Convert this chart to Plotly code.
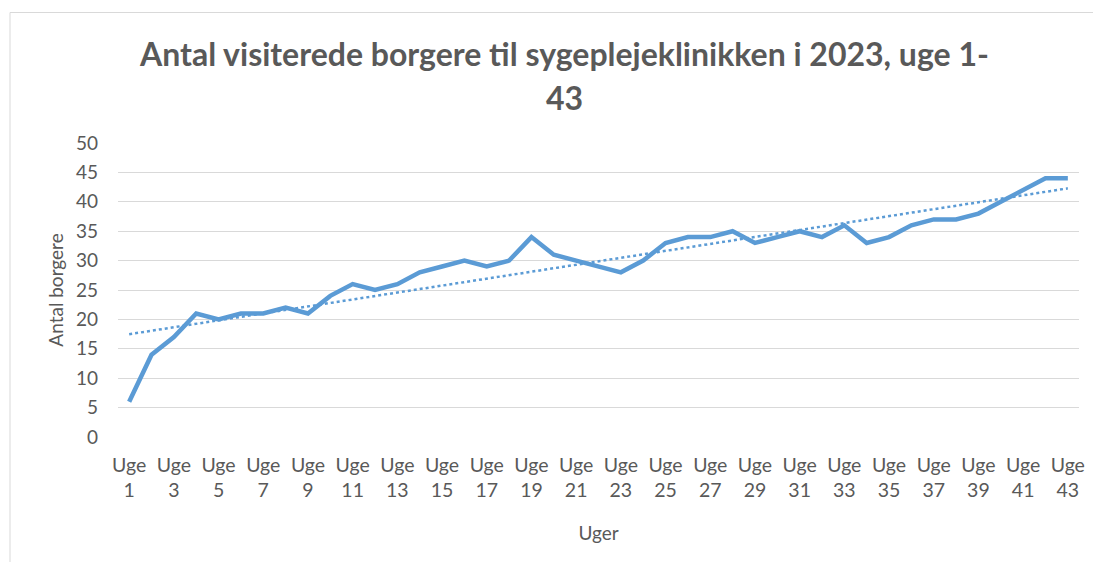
import numpy as np
import plotly.graph_objects as go

weeks = [f"Uge {i}" for i in range(1, 44)]
week_numbers = list(range(1, 44))
visits = [6, 14, 17, 21, 20, 21, 21, 22, 21, 24,
          26, 25, 26, 28, 29, 30, 29, 30, 34, 31,
          30, 29, 28, 30, 33, 34, 34, 35, 33, 34,
          35, 34, 36, 33, 34, 36, 37, 37, 38, 40,
          42, 44, 44]
tick_weeks = [f"Uge {i}" for i in range(1, 44, 2)]
tick_text = [f"Uge<br>{i}" for i in range(1, 44, 2)]
y_ticks = [0, 5, 10, 15, 20, 25, 30, 35, 40, 45, 50]

title_line1 = "Antal visiterede borgere til sygeplejeklinikken i 2023, uge 1-"
title_line2 = "43"

# linear trendline (least squares, as Excel's linear trendline)
slope, intercept = np.polyfit(week_numbers, visits, 1)
trend = [slope * w + intercept for w in week_numbers]

BLUE = "#5b9bd5"
GREY = "#595959"
FONT = "Lato, Carlito, Calibri, Open Sans, sans-serif"

OFF = 8  # page body margin
W, H = 1101 - OFF, 562 - OFF
# plot area in page coordinates
PL, PR, PT, PB = 118, 1079, 143, 437
L, T = PL - OFF, PT - OFF
R, B = W - (PR - OFF), H - (PB - OFF)
pw, ph = PR - PL, PB - PT

def px(x):  # page x -> paper
    return (x - PL) / pw

def py(y):  # page y -> paper
    return (PB - y) / ph

fig = go.Figure()
fig.add_trace(go.Scatter(x=weeks, y=trend, mode="lines",
                         line=dict(color=BLUE, width=2.5, dash="dot"),
                         hoverinfo="skip", showlegend=False))
fig.add_trace(go.Scatter(x=weeks, y=visits, mode="lines",
                         line=dict(color=BLUE, width=4.5),
                         showlegend=False))

fig.update_layout(
    width=W, height=H,
    margin=dict(l=L, r=R, t=T, b=B, autoexpand=False),
    paper_bgcolor="white", plot_bgcolor="white",
    font=dict(family=FONT, color=GREY, size=19),
    xaxis=dict(type="category", categoryorder="array", categoryarray=weeks,
               range=[-0.5, len(weeks) - 0.5],
               tickmode="array", tickvals=tick_weeks, ticktext=tick_text,
               showgrid=False, zeroline=False, showline=False, ticks="",
               tickfont=dict(size=19.5, color=GREY), ticklabelstandoff=14,
               title=dict(text="Uger", font=dict(size=19, color=GREY), standoff=26)),
    yaxis=dict(range=[0, 50], tickmode="array", tickvals=y_ticks,
               showgrid=True, gridcolor="#d9d9d9", gridwidth=1,
               zeroline=False, showline=False, ticks="",
               tickfont=dict(size=19, color=GREY), ticklabelstandoff=19,
               title=dict(text="Antal borgere", font=dict(size=19, color=GREY), standoff=7)),
    shapes=[dict(type="rect", xref="paper", yref="paper",
                 x0=px(10), x1=px(1115), y0=py(575), y1=py(12.5),
                 line=dict(color="#d9d9d9", width=1), fillcolor="rgba(0,0,0,0)",
                 layer="below")],
    annotations=[
        dict(text=f"<b>{title_line1}</b>", xref="paper", yref="paper",
             x=px(564), y=py(53), xanchor="center", yanchor="middle",
             showarrow=False, font=dict(size=32, color=GREY, family=FONT)),
        dict(text=f"<b>{title_line2}</b>", xref="paper", yref="paper",
             x=px(564), y=py(97), xanchor="center", yanchor="middle",
             showarrow=False, font=dict(size=32, color=GREY, family=FONT)),
    ],
)

fig.write_html("out.html")
